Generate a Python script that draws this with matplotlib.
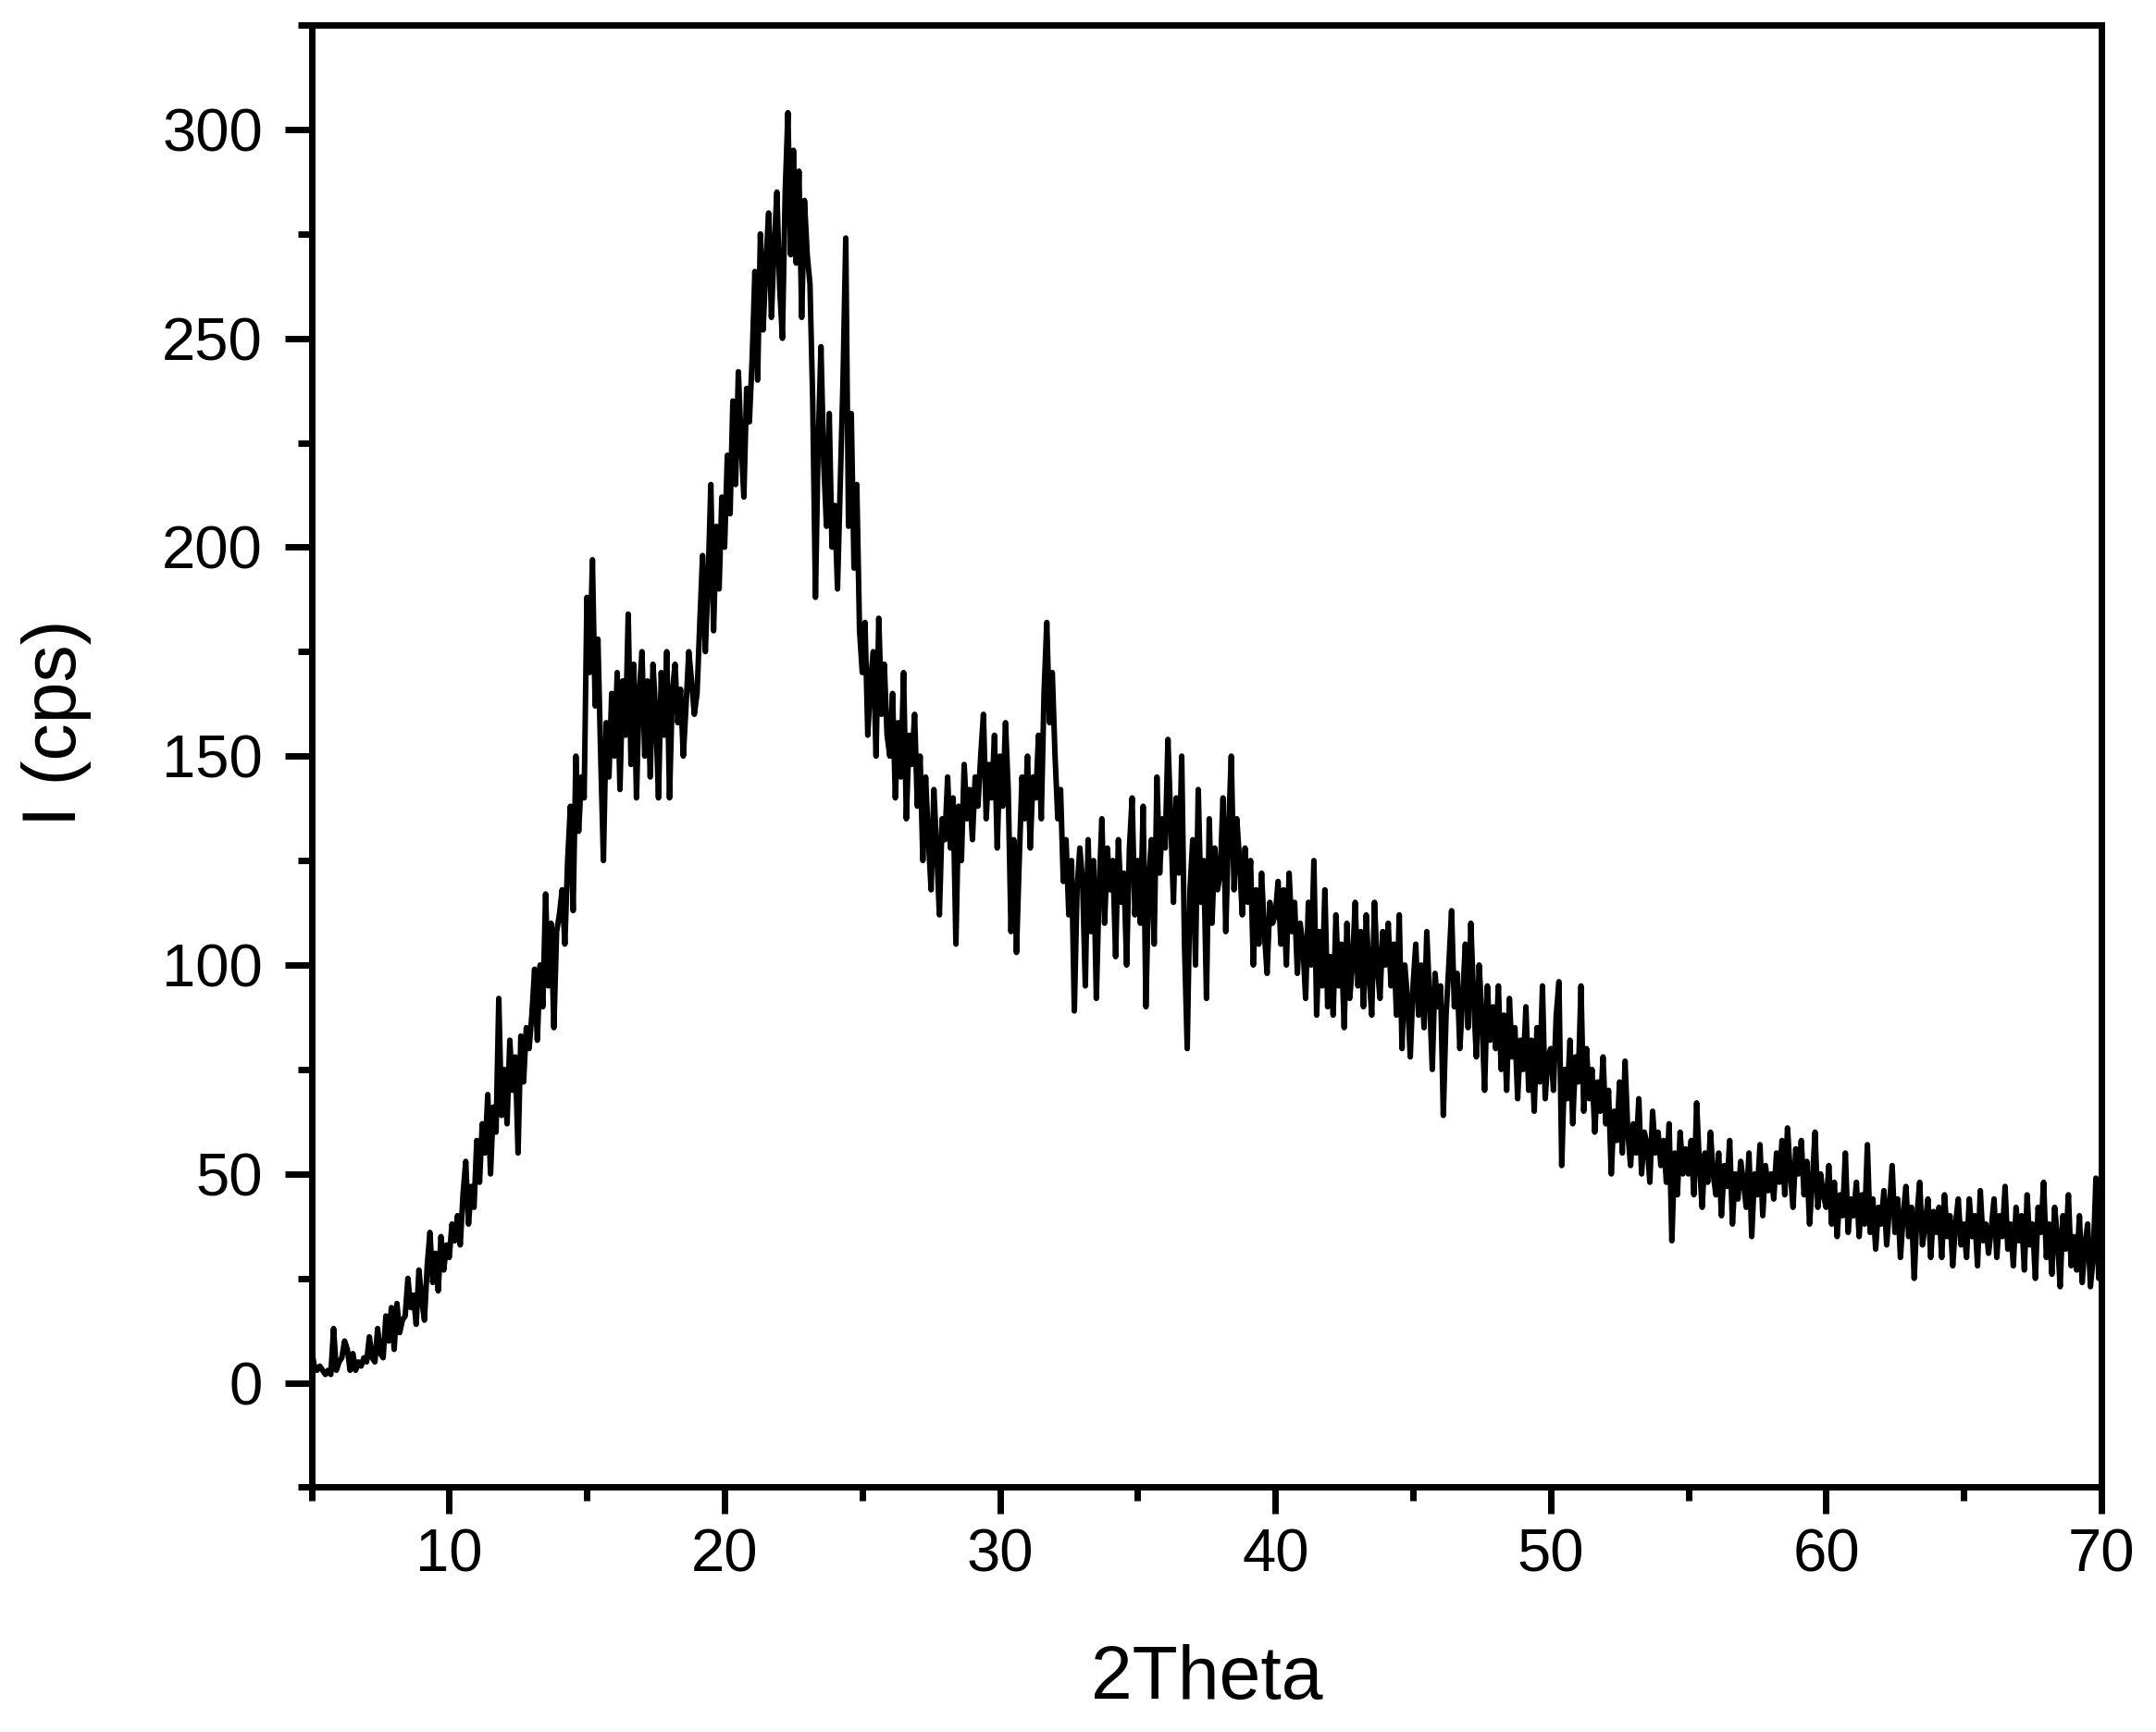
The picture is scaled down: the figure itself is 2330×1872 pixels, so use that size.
import matplotlib
matplotlib.use('Agg')

import numpy as np
import matplotlib.pyplot as plt
from matplotlib.ticker import MultipleLocator

# XRD scan, 5-70 deg, 0.1 deg step; intensities
start_2theta = 5.0
step_2theta = 0.1

i_05_10 = [8, 4, 3, 4, 3, 2, 3, 2, 13, 3,
           5, 6, 10, 8, 3, 7, 3, 5, 4, 6,
           5, 11, 6, 5, 13, 7, 6, 16, 10, 18,
           8, 19, 12, 15, 16, 25, 18, 21, 14, 27,
           20, 15, 28, 36, 24, 31, 22, 35, 27, 33]
i_10_15 = [30, 38, 34, 40, 33, 45, 53, 38, 47, 42,
           58, 48, 62, 55, 69, 50, 66, 60, 92, 64,
           75, 62, 82, 70, 78, 55, 83, 72, 85, 80,
           88, 99, 82, 100, 90, 117, 95, 110, 85, 108,
           112, 118, 105, 125, 138, 113, 150, 132, 145, 140]
i_15_20 = [188, 170, 197, 162, 178, 150, 125, 158, 145, 165,
           150, 170, 142, 168, 155, 184, 148, 172, 140, 165,
           175, 150, 168, 145, 172, 160, 140, 170, 155, 175,
           140, 165, 172, 158, 166, 150, 162, 175, 168, 160,
           165, 182, 198, 175, 192, 215, 180, 205, 190, 212]
i_20_25 = [200, 222, 208, 235, 215, 242, 225, 212, 238, 230,
           245, 266, 240, 275, 252, 268, 280, 255, 272, 285,
           262, 250, 285, 304, 270, 295, 268, 290, 255, 283,
           270, 263, 235, 188, 225, 248, 220, 205, 232, 200,
           210, 190, 215, 240, 274, 205, 232, 195, 215, 180]
i_25_30 = [170, 182, 155, 168, 175, 150, 183, 160, 172, 155,
           150, 165, 140, 158, 145, 170, 135, 155, 148, 160,
           138, 150, 125, 145, 130, 118, 142, 128, 112, 135,
           130, 145, 128, 140, 105, 138, 125, 148, 135, 142,
           130, 145, 138, 150, 160, 135, 148, 140, 155, 128]
i_30_35 = [150, 138, 158, 142, 108, 130, 103, 125, 145, 135,
           150, 128, 145, 140, 155, 135, 165, 182, 158, 170,
           150, 135, 142, 120, 130, 112, 125, 89, 118, 128,
           120, 95, 130, 108, 125, 92, 118, 135, 110, 128,
           118, 125, 102, 130, 115, 122, 100, 128, 140, 112]
i_35_40 = [125, 110, 138, 90, 120, 130, 105, 145, 122, 135,
           128, 154, 135, 115, 140, 122, 150, 105, 80, 118,
           130, 100, 142, 115, 125, 92, 135, 110, 128, 118,
           122, 140, 108, 132, 150, 118, 135, 125, 112, 128,
           115, 125, 100, 118, 105, 122, 108, 98, 115, 110]
i_40_45 = [112, 120, 105, 118, 100, 122, 108, 115, 98, 110,
           105, 92, 115, 100, 125, 88, 108, 95, 118, 90,
           102, 88, 112, 95, 105, 85, 110, 92, 100, 115,
           95, 108, 90, 112, 98, 88, 115, 100, 92, 108,
           100, 110, 95, 105, 88, 112, 80, 100, 92, 78]
i_45_50 = [95, 105, 88, 100, 85, 108, 92, 75, 98, 90,
           95, 64, 88, 100, 113, 90, 98, 80, 92, 105,
           85, 110, 92, 78, 100, 88, 70, 95, 82, 90,
           80, 95, 75, 88, 70, 92, 78, 85, 68, 82,
           75, 90, 70, 82, 65, 85, 72, 95, 68, 78]
i_50_55 = [80, 70, 88, 96, 52, 75, 68, 82, 62, 78,
           72, 95, 65, 80, 68, 75, 60, 72, 65, 78,
           62, 70, 50, 65, 58, 72, 55, 77, 60, 52,
           62, 55, 68, 50, 60, 57, 48, 65, 55, 60,
           52, 58, 48, 62, 34, 55, 45, 60, 50, 56]
i_55_60 = [50, 58, 45, 67, 52, 42, 55, 48, 60, 50,
           45, 55, 40, 52, 47, 58, 38, 50, 44, 53,
           48, 42, 55, 35, 50, 45, 57, 40, 52, 46,
           50, 44, 55, 48, 58, 45, 61, 50, 42, 56,
           50, 58, 45, 53, 38, 48, 60, 42, 50, 45]
i_60_65 = [42, 52, 38, 48, 35, 45, 40, 55, 36, 44,
           40, 48, 35, 45, 38, 57, 36, 44, 32, 42,
           38, 46, 33, 42, 52, 36, 44, 30, 40, 47,
           35, 42, 25, 40, 48, 33, 38, 44, 30, 41,
           36, 42, 30, 45, 35, 40, 28, 38, 44, 33]
i_65_70 = [38, 30, 44, 35, 40, 28, 46, 34, 38, 31,
           37, 44, 30, 40, 35, 47, 32, 38, 28, 42,
           34, 40, 27, 45, 33, 38, 25, 42, 36, 48,
           30, 38, 26, 42, 35, 23, 40, 32, 45, 28,
           35, 27, 40, 24, 33, 38, 23, 30, 49, 25,
           30]

intensity = np.array(i_05_10 + i_10_15 + i_15_20 + i_20_25 + i_25_30 + i_30_35 +
                     i_35_40 + i_40_45 + i_45_50 + i_50_55 + i_55_60 + i_60_65 + i_65_70,
                     dtype=float)
two_theta = start_2theta + step_2theta * np.arange(len(intensity))

plt.rcParams['font.family'] = ['Liberation Sans', 'DejaVu Sans']

fig = plt.figure(figsize=(23.3, 18.72), dpi=100)
ax = fig.add_axes([0.1445, 0.1413, 0.9747 - 0.1445, 0.9856 - 0.1413])

ax.plot(two_theta, intensity, color='black', linewidth=4.3,
        solid_joinstyle='round', solid_capstyle='round')

ax.set_xlim(5, 70)
ax.set_ylim(-25, 325)
ax.xaxis.set_major_locator(MultipleLocator(10))
ax.xaxis.set_minor_locator(MultipleLocator(5))
ax.yaxis.set_major_locator(MultipleLocator(50))
ax.yaxis.set_minor_locator(MultipleLocator(25))

for sp in ax.spines.values():
    sp.set_linewidth(5)

ax.tick_params(which='both', direction='out', top=False, right=False, width=5)
ax.tick_params(which='major', length=21, labelsize=47)
ax.tick_params(axis='x', which='major', pad=11)
ax.tick_params(axis='y', which='major', pad=17)
ax.tick_params(which='minor', length=10.5)

ax.set_xlabel('2Theta', fontsize=58)
ax.set_ylabel('I (cps)', fontsize=58)
ax.xaxis.set_label_coords(0.5, -0.107)
ax.yaxis.set_label_coords(-0.123, 0.523)

fig.savefig('out.png', dpi=100)
